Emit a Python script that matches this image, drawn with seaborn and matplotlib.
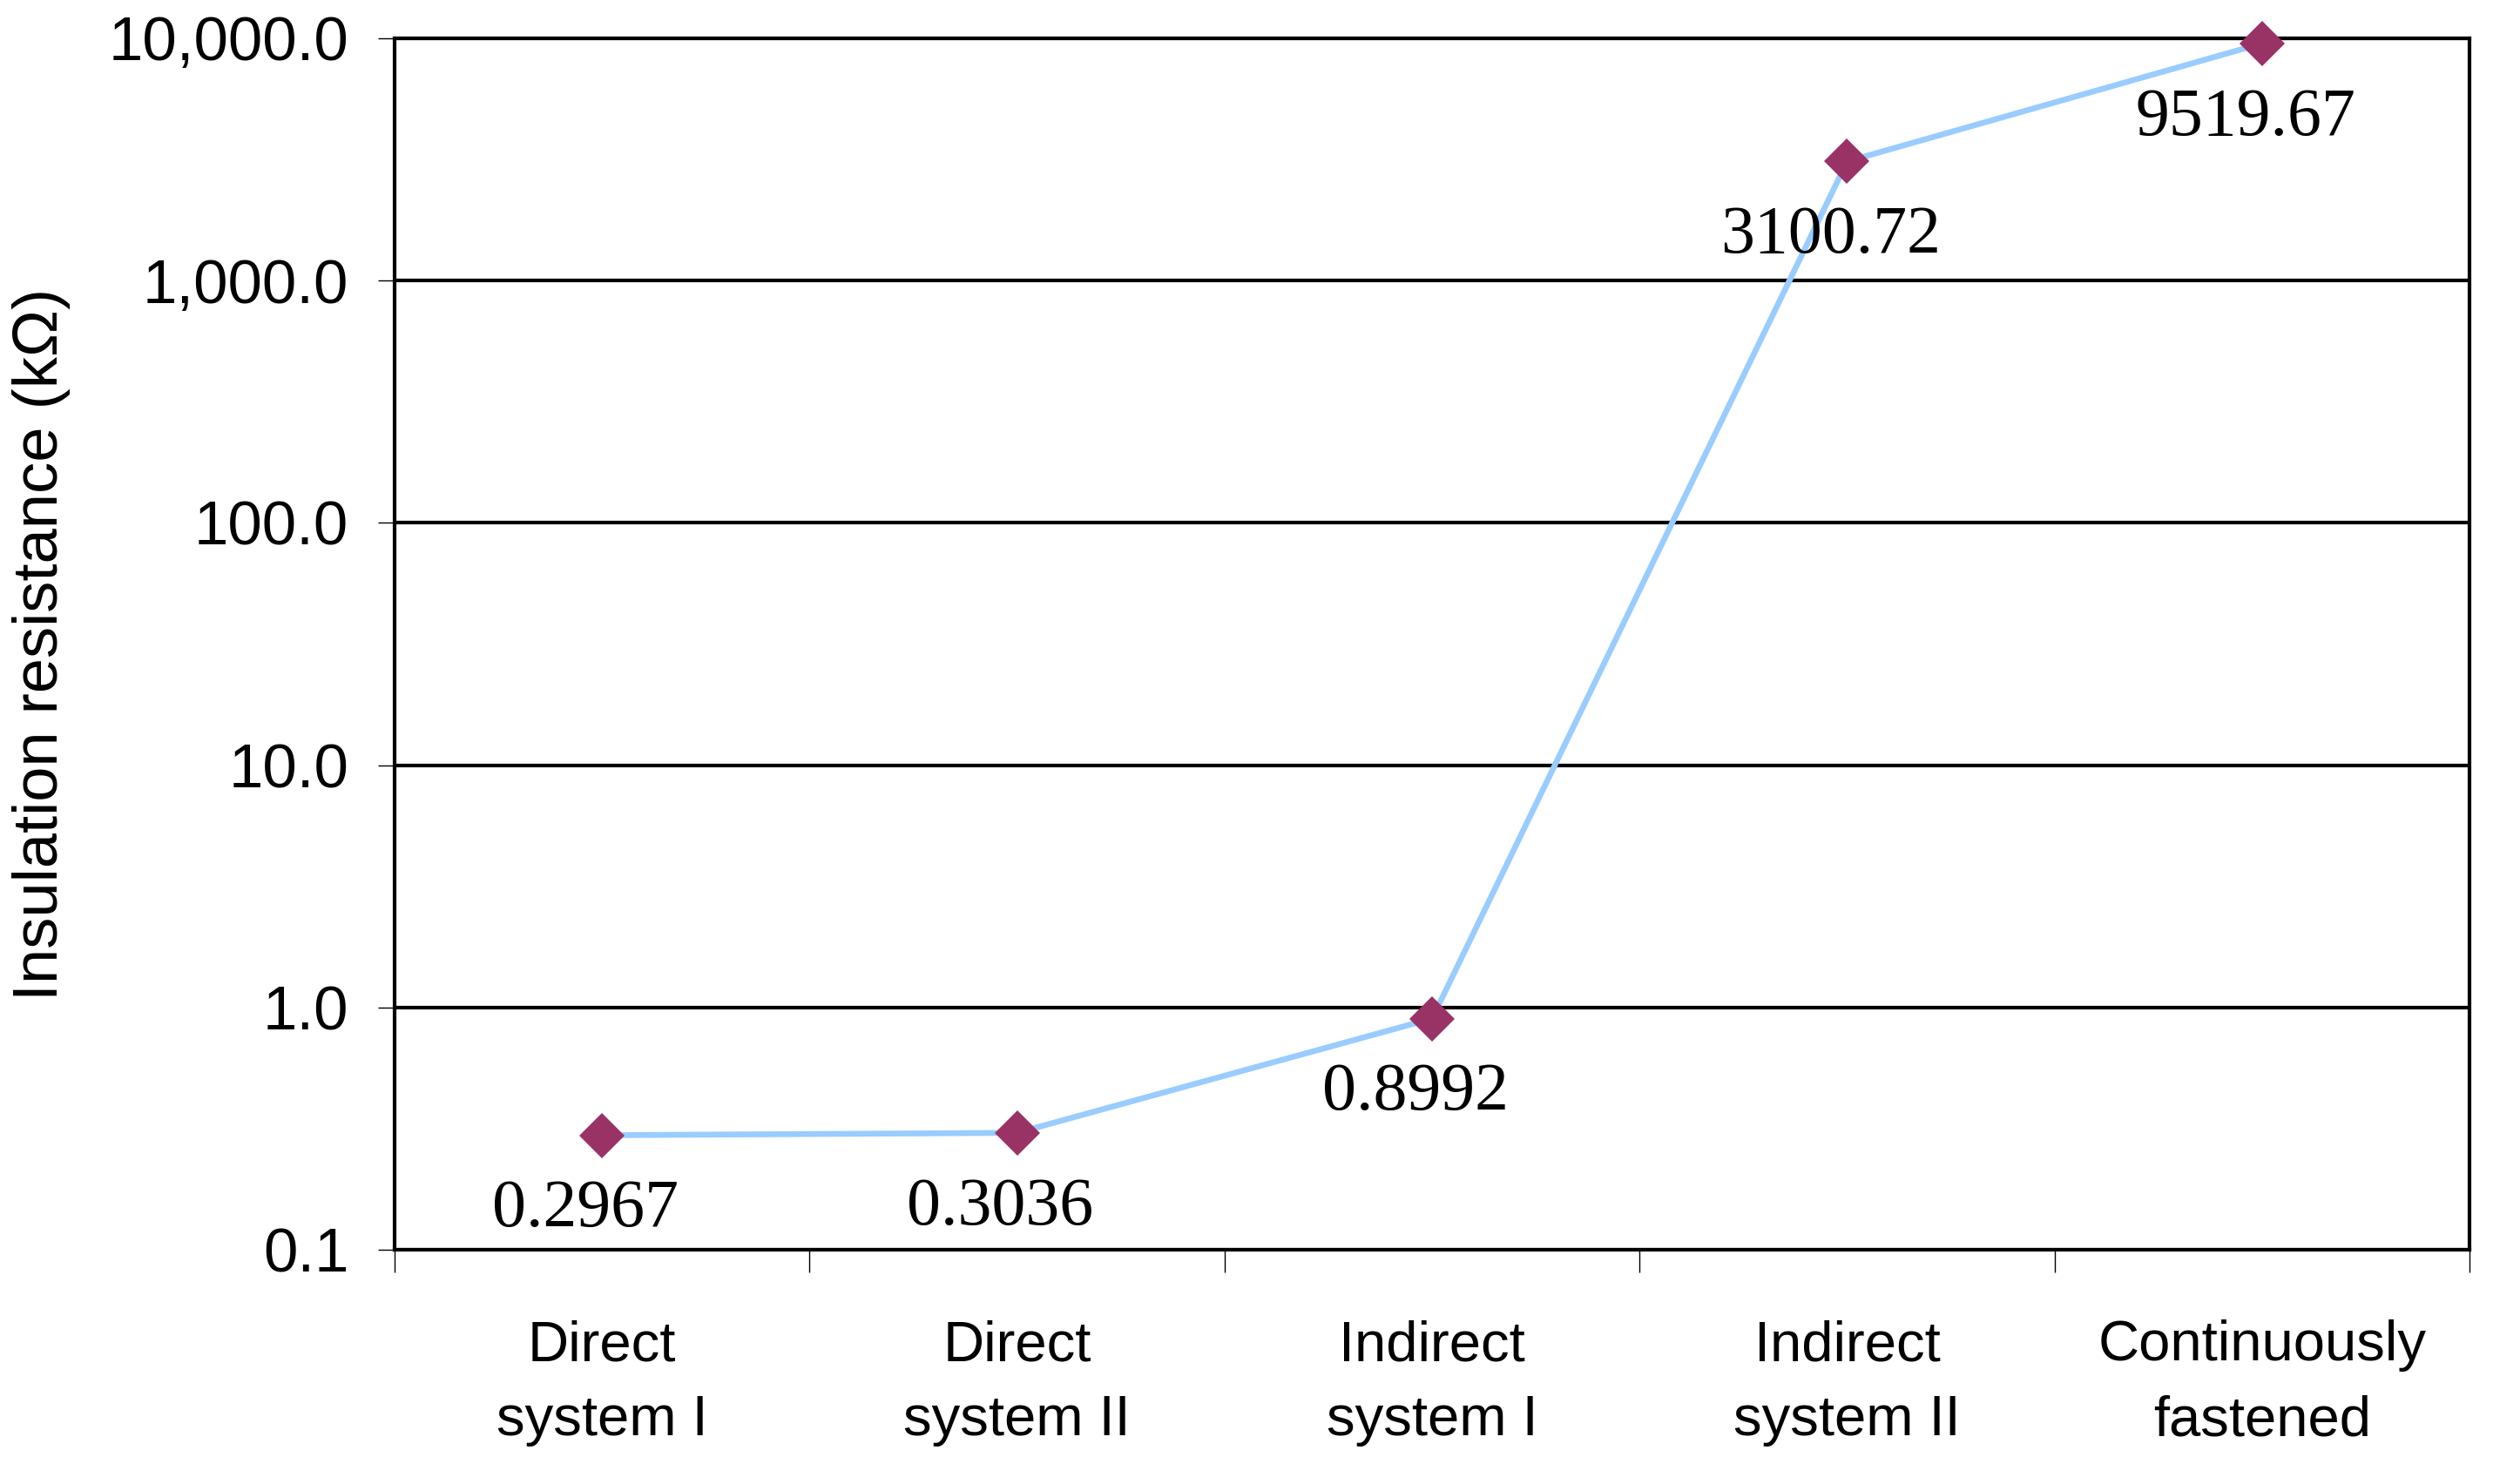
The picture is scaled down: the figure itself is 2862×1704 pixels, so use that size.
import matplotlib
matplotlib.use("Agg")
import matplotlib.pyplot as plt
from matplotlib.ticker import FixedLocator, FuncFormatter, NullFormatter
import seaborn as sns
import pandas as pd

categories = ["Direct\nsystem I", "Direct\nsystem II", "Indirect\nsystem I",
              "Indirect\nsystem II", "Continuously\nfastened"]
resistance = [0.2967, 0.3036, 0.8992, 3100.72, 9519.67]
value_labels = ["0.2967", "0.3036", "0.8992", "3100.72", "9519.67"]
y_ticks = [0.1, 1.0, 10.0, 100.0, 1000.0, 10000.0]
y_label = "Insulation resistance (k\u03a9)"

sns.set_style("white")
plt.rcParams['font.family'] = ['Liberation Sans', 'DejaVu Sans']
plt.rcParams['text.color'] = 'black'
plt.rcParams['axes.labelcolor'] = 'black'
plt.rcParams['xtick.color'] = 'black'
plt.rcParams['ytick.color'] = 'black'

df = pd.DataFrame({"pos": range(len(categories)), "value": resistance})

fig = plt.figure(figsize=(28.62, 17.04), dpi=100)
ax = fig.add_axes([0.1583, 0.1579, 0.9906 - 0.1583, 0.9742 - 0.1579])

sns.lineplot(data=df, x="pos", y="value", ax=ax, color="#99CCFF", linewidth=4.8,
             marker="D", markersize=26, markerfacecolor="#993366",
             markeredgecolor="#993366", markeredgewidth=0, zorder=5, clip_on=False)

ax.set_yscale("log")
ax.set_ylim(0.1, 10000)
ax.set_xlim(-0.5, len(categories) - 0.5)

ax.yaxis.set_major_locator(FixedLocator(y_ticks))
ax.yaxis.set_minor_locator(FixedLocator([]))
ax.yaxis.set_major_formatter(FuncFormatter(lambda v, p: f"{v:,.1f}"))
ax.grid(axis="y", which="major", color="black", linewidth=3.0)
ax.grid(axis="x", visible=False)

ax.set_xticks(range(len(categories)))
ax.set_xticklabels(categories, fontsize=47, linespacing=1.55)
ax.xaxis.set_minor_locator(FixedLocator([i - 0.5 for i in range(len(categories) + 1)]))
ax.xaxis.set_minor_formatter(NullFormatter())
ax.tick_params(axis="x", which="major", length=0, pad=58, labelcolor="black")
ax.tick_params(axis="x", which="minor", length=19, width=1, color="black", direction="out", bottom=True)
ax.tick_params(axis="y", which="major", length=14, width=1, color="black", direction="out",
               labelsize=51, pad=24, left=True, labelcolor="black")

for s in ax.spines.values():
    s.set_visible(True)
    s.set_color("black")
    s.set_linewidth(3.0)

ax.set_xlabel("")
ax.set_ylabel(y_label, fontsize=52, color="black")
ax.yaxis.set_label_coords(-0.156, 0.5)

for i, (v, t) in enumerate(zip(resistance, value_labels)):
    ax.annotate(t, xy=(i, v), xytext=(-14, -62), textcoords="offset points",
                ha="center", va="center", fontsize=56, color="black",
                family=['Liberation Serif', 'DejaVu Serif'], zorder=6)

fig.savefig("out.png", dpi=100, facecolor="white")
